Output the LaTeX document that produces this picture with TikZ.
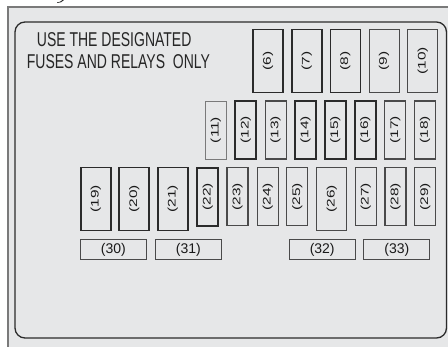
\documentclass[tikz,border=0pt]{standalone}
\usepackage{fontspec}
\setmainfont{Liberation Sans}
\newfontfamily\narrowfont{Liberation Sans}[FakeStretch=0.7]
\newfontfamily\widefont{Liberation Sans}[FakeStretch=1.4]
\usetikzlibrary{positioning}

\definecolor{panelgrey}{HTML}{E6E7E8}
\definecolor{edgedark}{HTML}{2B2B2B}
\definecolor{edgemid}{HTML}{4A4A4A}
\definecolor{edgelight}{HTML}{7A7A7A}

\newcommand{\fuselabel}[1]{\rotatebox{90}{\widefont\fontsize{11}{11}\selectfont(#1)}}

\tikzset{
  fuse/.style={draw=edgemid, line width=1.1pt, inner sep=0pt, outer sep=0pt,
    font=\fontsize{14}{14}\selectfont, text=black!90},
  fusebold/.style={fuse, draw=edgedark, line width=1.8pt},
  fuselight/.style={fuse, draw=edgelight, line width=0.9pt},
  widefuse/.style={minimum width=30pt, minimum height=63pt},
  slimfuse/.style={minimum width=21pt, minimum height=58pt},
  relaybox/.style={fuse, minimum width=66pt, minimum height=20pt},
}

\begin{document}
\begin{tikzpicture}[x=1pt,y=-1pt]
    \useasboundingbox (0,0) rectangle (448,347);

    % Housing
    \fill[panelgrey] (8,7) rectangle (449,348);
    \draw[edgelight, line width=1.4pt] (8,348) -- (8,7) -- (449,7);
    \fill[black!85] (57,2.4) .. controls (59,2.4) and (61,1.5) .. (62.5,0) -- (64,0) .. controls (62.5,2) and (60,3) .. (57,3) -- cycle;
    \draw[edgedark, line width=1.3pt, rounded corners=10pt] (15,22) rectangle (446.5,338);

    % Notice
    \node[anchor=base west, inner sep=0pt, font=\narrowfont\fontsize{20}{20}\selectfont, text=black!85] (note1) at (36.7,46.7) {USE THE DESIGNATED};
    \node[anchor=base west, inner sep=0pt, font=\narrowfont\fontsize{20}{20}\selectfont, text=black!85] (note2) at (26.7,68.3) {FUSES AND RELAYS\ \ ONLY};

    % Top row
    \foreach \n/\x in {6/268,7/306.7,8/345.4}
      \node[fusebold, widefuse] (f\n) at (\x,61) {\fuselabel{\n}};
    \foreach \n/\x in {9/384.1,10/422.8}
      \node[fuse, widefuse] (f\n) at (\x,61) {\fuselabel{\n}};

    % Middle row
    \node[fuselight, slimfuse] (f11) at (215.8,130) {\fuselabel{11}};
    \node[fusebold, slimfuse] (f12) at (245.7,130) {\fuselabel{12}};
    \node[fuse, slimfuse] (f13) at (275.6,130) {\fuselabel{13}};
    \foreach \n/\x in {14/305.5,15/335.4,16/365.3}
      \node[fusebold, slimfuse, line width=1.4pt] (f\n) at (\x,130) {\fuselabel{\n}};
    \foreach \n/\x in {17/395.2,18/425.1}
      \node[fuse, slimfuse] (f\n) at (\x,130) {\fuselabel{\n}};

    % Lower row
    \foreach \n/\x in {19/95.7,20/134.3,21/172.8}
      \node[fusebold, widefuse] (f\n) at (\x,199) {\fuselabel{\n}};
    \node[fusebold, slimfuse, line width=2pt] (f22) at (207.8,196.7) {\fuselabel{22}};
    \foreach \n/\x in {23/237.5,24/267.7,25/297.3}
      \node[fuse, slimfuse] (f\n) at (\x,196.7) {\fuselabel{\n}};
    \node[fuse, widefuse] (f26) at (331.7,199) {\fuselabel{26}};
    \foreach \n/\x in {27/365.8,28/395.5,29/425.3}
      \node[fuse, slimfuse] (f\n) at (\x,196.7) {\fuselabel{\n}};

    % Relays
    \foreach \n/\x in {30/113.3,31/188.3,32/322.2,33/396.8}
      \node[relaybox] (r\n) at (\x,249.8) {(\n)};
\end{tikzpicture}
\end{document}
